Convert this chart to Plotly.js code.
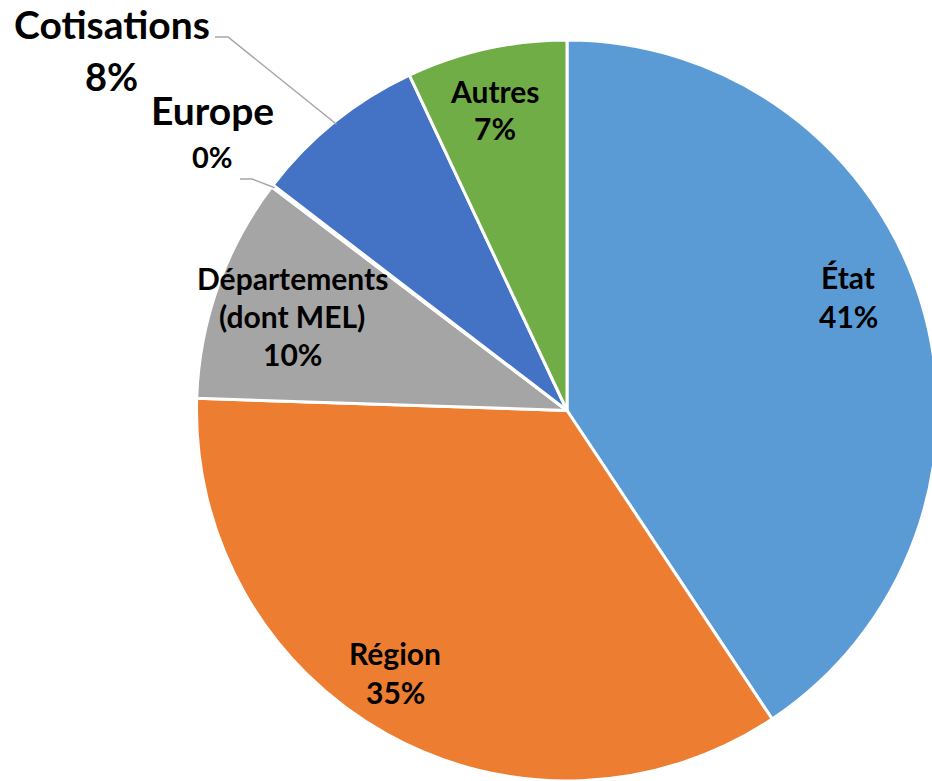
<!DOCTYPE html>
<html>
<head>
<meta charset="utf-8">
<script src="https://cdn.plot.ly/plotly-3.0.1.min.js"></script>
<style>
  html, body { margin: 0; padding: 0; overflow: hidden; background: #ffffff; }
  #chart { width: 940px; height: 781px; }
</style>
</head>
<body>
<div id="chart"></div>
<script>
// ---- data ----
const categories = ["État", "Région", "Départements<br>(dont MEL)", "Europe", "Cotisations", "Autres"];
const labelLines = [["État"], ["Région"], ["Départements", "(dont MEL)"], ["Europe"], ["Cotisations"], ["Autres"]];
const values = [40.7, 34.9, 9.8, 0.1, 7.6, 7.0];
const colors = ["#5B9BD5", "#ED7D31", "#A5A5A5", "#FFC000", "#4472C4", "#70AD47"];

// ---- geometry / style ----
const W = 940, H = 781;
const cx = 567, cy = 410.5, R = 367.5, Rd = 370.5;
const toX = x => x / W;
const toY = y => 1 - y / H;
const FONT = "Lato, 'Open Sans', sans-serif";

const total = values.reduce((a, b) => a + b, 0);
const pct = values.map(v => Math.round(v / total * 100) + "%");

// slice mid-point on the rim (clockwise from 12 o'clock)
function rimPoint(i) {
  let start = 0;
  for (let k = 0; k < i; k++) start += values[k];
  const mid = (start + values[i] / 2) / total * 2 * Math.PI;
  return [cx + R * Math.sin(mid), cy - R * Math.cos(mid)];
}

const trace = {
  type: "pie",
  labels: categories,
  values: values,
  sort: false,
  direction: "clockwise",
  rotation: 0,
  marker: { colors: colors, line: { color: "#ffffff", width: 3 } },
  textinfo: "none",
  hoverinfo: "label+percent",
  showlegend: false,
  domain: { x: [toX(cx - Rd), toX(cx + Rd)], y: [Math.max(0, toY(cy + Rd)), toY(cy - Rd)] }
};

// label placement (pixel centres of each line), style only
const insideSize = 30, bigSize = 39;
const labelSpec = [
  { i: 0, x: 848, ys: [277], py: 316, size: insideSize, psize: insideSize },
  { i: 1, x: 395, ys: [653], py: 692, size: insideSize, psize: insideSize },
  { i: 2, x: 292, ys: [278, 316], py: 354, size: insideSize, psize: insideSize },
  { i: 3, x: 212, ys: [110], py: 156, size: bigSize, psize: 29, px: 212 },
  { i: 4, x: 112, ys: [24], py: 76, size: bigSize, psize: 38, px: 111 },
  { i: 5, x: 495, ys: [91], py: 128, size: insideSize, psize: insideSize }
];

const annotations = [];
labelSpec.forEach(s => {
  labelLines[s.i].forEach((t, j) => {
    annotations.push({
      xref: "paper", yref: "paper", x: toX(s.x), y: toY(s.ys[j]),
      xanchor: "center", yanchor: "middle", showarrow: false,
      text: "<b>" + t + "</b>", font: { family: FONT, size: s.size, color: "#000000" }
    });
  });
  annotations.push({
    xref: "paper", yref: "paper", x: toX(s.px || s.x), y: toY(s.py),
    xanchor: "center", yanchor: "middle", showarrow: false,
    text: "<b>" + pct[s.i] + "</b>", font: { family: FONT, size: s.psize, color: "#000000" }
  });
});

// leader lines for the outside labels
function leader(i, x0, y0, x1, y1) {
  const p = rimPoint(i);
  return {
    type: "path", xref: "paper", yref: "paper",
    path: `M ${toX(x0)} ${toY(y0)} L ${toX(x1)} ${toY(y1)} L ${toX(p[0])} ${toY(p[1])}`,
    line: { color: "#A6A6A6", width: 1.5 }
  };
}
const shapes = [
  leader(4, 215, 37, 228, 37),
  leader(3, 240, 179, 252, 179)
];

const layout = {
  width: W, height: H,
  margin: { l: 0, r: 0, t: 0, b: 0, pad: 0 },
  paper_bgcolor: "#ffffff",
  plot_bgcolor: "#ffffff",
  annotations: annotations,
  shapes: shapes
};

Plotly.newPlot("chart", [trace], layout, { displayModeBar: false, staticPlot: true });
</script>
</body>
</html>
